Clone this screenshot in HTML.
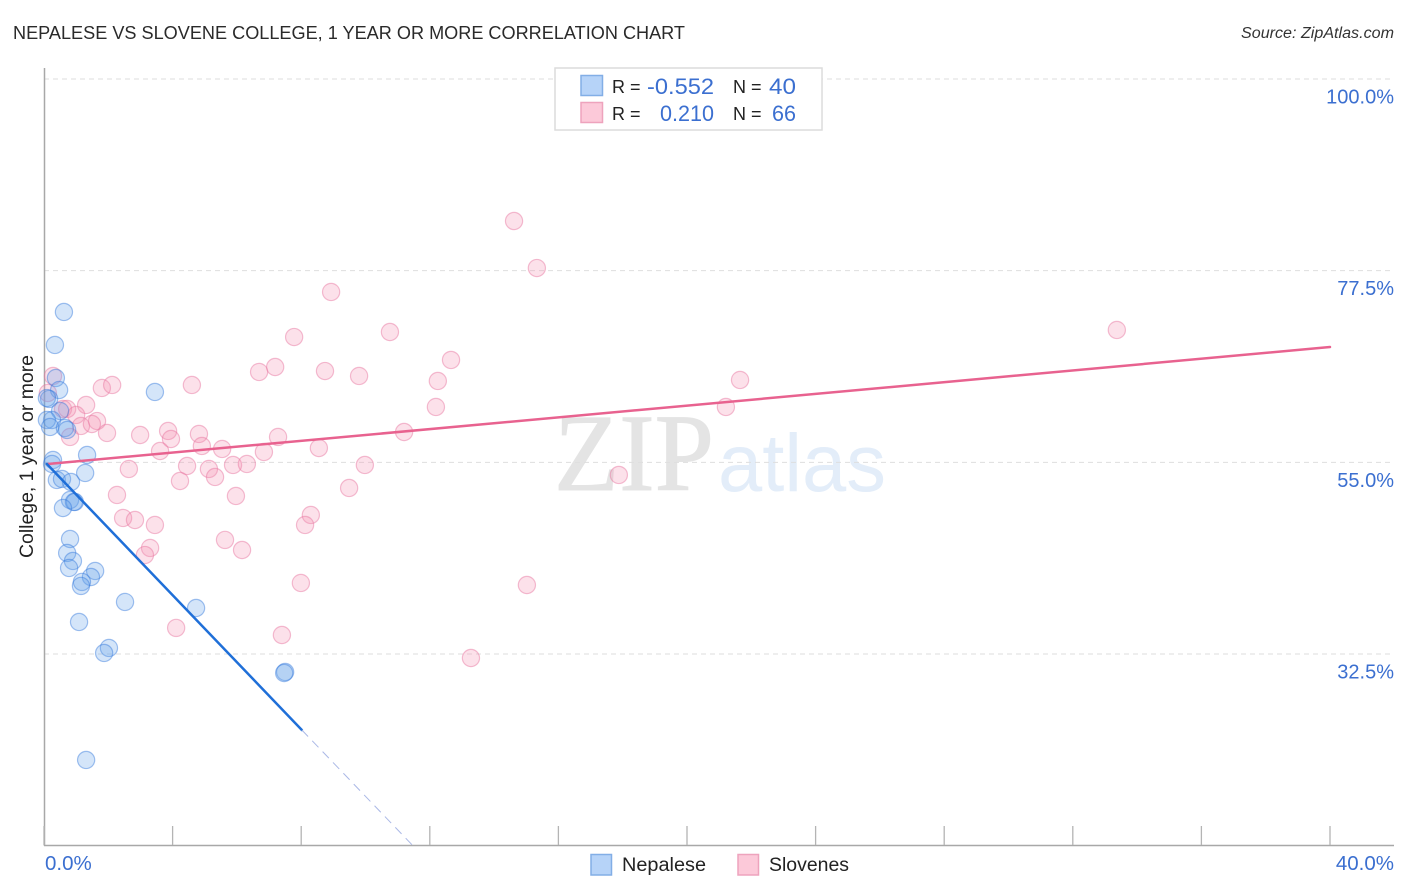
<!DOCTYPE html>
<html lang="en">
<head>
<meta charset="utf-8">
<title>Nepalese vs Slovene College, 1 Year or More Correlation Chart</title>
<style>
html,body{margin:0;padding:0;background:#fff;width:1406px;height:892px;overflow:hidden}
svg{display:block;font-family:"Liberation Sans",sans-serif}
.blue{fill:#3b6fd0}
.dark{fill:#222}
</style>
</head>
<body>
<svg id="chart" width="1406" height="892" viewBox="0 0 1406 892" xmlns="http://www.w3.org/2000/svg">
  <g>
    <text x="554" y="490" font-family="'Liberation Serif',serif" font-size="110" textLength="160" lengthAdjust="spacingAndGlyphs" fill="#e4e4e4" stroke="#e4e4e4" stroke-width="1">ZIP</text>
    <text x="718" y="491" font-size="82" textLength="168" lengthAdjust="spacingAndGlyphs" fill="#e3edf9">atlas</text>
  </g>
  <g id="grid"></g>
  <g id="axes"></g>
  <g id="marks"></g>
  <g id="trends"></g>
  <g id="labels"></g>

  <text x="13" y="39" font-size="18.5" textLength="672" lengthAdjust="spacingAndGlyphs" fill="#2a2a2a">NEPALESE VS SLOVENE COLLEGE, 1 YEAR OR MORE CORRELATION CHART</text>
  <text x="1241" y="38" font-size="15.5" font-style="italic" textLength="153" lengthAdjust="spacingAndGlyphs" fill="#333">Source: ZipAtlas.com</text>
  <text transform="translate(33,456.500) rotate(-90)" font-size="19" text-anchor="middle" textLength="203" lengthAdjust="spacingAndGlyphs" fill="#222">College, 1 year or more</text>

  <g>
    <rect x="555" y="68" width="267" height="62" fill="#fff" stroke="#dcdcdc" stroke-width="1.5"/>
    <rect x="581" y="75.500" width="21.500" height="20" fill="#b6d3f8" stroke="#82aee6" stroke-width="1.500"/>
    <rect x="581" y="102.500" width="21.500" height="20" fill="#fcc9d9" stroke="#eea3bd" stroke-width="1.500"/>
    <text class="dark" x="612" y="93" font-size="18">R =</text>
    <text class="blue" x="647" y="94" font-size="22" textLength="67" lengthAdjust="spacingAndGlyphs">-0.552</text>
    <text class="dark" x="733" y="93" font-size="18">N =</text>
    <text class="blue" x="769" y="94" font-size="22" textLength="27" lengthAdjust="spacingAndGlyphs">40</text>
    <text class="dark" x="612" y="120" font-size="18">R =</text>
    <text class="blue" x="660" y="121" font-size="22" textLength="54" lengthAdjust="spacingAndGlyphs">0.210</text>
    <text class="dark" x="733" y="120" font-size="18">N =</text>
    <text class="blue" x="772" y="121" font-size="22" textLength="24" lengthAdjust="spacingAndGlyphs">66</text>
  </g>

  <g>
    <rect x="591" y="854.500" width="20.500" height="20.500" fill="#b6d3f8" stroke="#82aee6" stroke-width="1.500"/>
    <text class="dark" x="622" y="871" font-size="19" textLength="84" lengthAdjust="spacingAndGlyphs">Nepalese</text>
    <rect x="738" y="854.500" width="20.500" height="20.500" fill="#fcc9d9" stroke="#eea3bd" stroke-width="1.500"/>
    <text class="dark" x="769" y="871" font-size="19" textLength="80" lengthAdjust="spacingAndGlyphs">Slovenes</text>
  </g>
</svg>
<script>
const nepaleseX = [0.62,0.34,0.37,0.47,3.45,0.16,0.09,0.50,0.25,0.09,0.19,0.65,0.72,1.34,0.28,0.25,1.28,0.40,0.56,0.84,0.81,0.96,0.93,0.59,0.81,0.72,0.90,0.78,1.59,1.46,1.18,1.15,2.52,4.73,1.09,2.02,1.87,7.50,7.47,1.31];
const nepaleseY = [72.65,68.78,64.90,63.49,63.26,62.44,62.55,61.03,59.97,59.97,59.15,59.03,58.80,55.86,55.28,54.81,53.75,52.93,53.05,52.69,50.58,50.35,50.35,49.64,46.00,44.36,43.42,42.60,42.25,41.54,40.96,40.49,38.61,37.90,36.26,33.21,32.62,30.39,30.27,20.06];
const sloveneX = [0.28,1.80,2.12,4.60,0.12,0.59,0.72,1.31,1.00,1.15,0.81,1.65,1.49,1.96,2.99,3.86,3.95,3.61,4.82,4.91,5.54,2.64,2.27,4.45,4.23,5.13,5.32,5.88,6.31,6.84,7.28,8.55,9.98,9.49,5.97,2.46,2.83,3.45,3.30,3.14,8.30,8.12,5.63,6.16,7.99,4.11,7.40,13.28,15.02,17.88,11.20,12.19,12.25,12.66,10.76,8.93,7.78,7.19,6.69,8.74,9.80,14.62,15.33,21.65,21.21,33.37];
const sloveneY = [65.14,63.73,64.08,64.08,63.14,61.26,61.26,61.73,60.56,59.27,57.98,59.85,59.50,58.45,58.21,58.68,57.74,56.33,58.33,56.92,56.57,54.22,51.17,54.57,52.81,54.22,53.28,54.69,54.81,56.22,57.98,56.68,54.69,51.99,51.05,48.47,48.23,47.65,44.95,44.12,48.82,47.65,45.89,44.71,40.84,35.56,34.73,32.03,40.60,53.52,58.56,61.50,64.55,67.02,70.30,75.00,69.71,66.19,65.61,65.72,65.14,83.33,77.81,64.67,61.50,70.54];
const nepaleseTrendX = [0.09,8.02];
const nepaleseTrendY = [54.81,23.58];
const nepaleseDashX = [8.02,11.45];
const nepaleseDashY = [23.58,10.09];
const sloveneTrendX = [0.12,40];
const sloveneTrendY = [54.81,68.54];
const yTicks = [100,77.5,55,32.5];
const yTickLabels = ['100.0%','77.5%','55.0%','32.5%'];
const xTicks = [0,4,8,12,16,20,24,28,32,36,40];
const xEndLabels = ['0.0%','40.0%'];

const NS = 'http://www.w3.org/2000/svg';
const X0 = 44, X1 = 1330, XMIN = 0, XMAX = 40;
const Y100 = 79, Y325 = 654;
function sx(v){ return X0 + (v - XMIN) * (X1 - X0) / (XMAX - XMIN); }
function sy(v){ return Y100 + (100 - v) * (Y325 - Y100) / 67.5; }
function make(tag, attrs, parent){
  const el = document.createElementNS(NS, tag);
  for (const k in attrs) el.setAttribute(k, attrs[k]);
  parent.appendChild(el);
  return el;
}
const grid = document.getElementById('grid');
const axes = document.getElementById('axes');
const marks = document.getElementById('marks');
const trends = document.getElementById('trends');
const labels = document.getElementById('labels');

yTicks.forEach(function(t, i){
  const g = make('line', {x1:44, x2:1394, y1:sy(t), y2:sy(t), stroke:'#dedede', 'stroke-width':1, 'stroke-dasharray':'5 4'}, grid);
  
  
  const l = make('text', {x:1394, y:sy(t) + 24.5, 'font-size':20, 'text-anchor':'end', fill:'#3b6fd0'}, labels);
  l.textContent = yTickLabels[i];
  
  
});

const yAxis = make('line', {x1:44.5, x2:44.5, y1:68, y2:846, stroke:'#a8a8a8', 'stroke-width':1.5}, axes);


const xAxis = make('line', {x1:44, x2:1394, y1:845.5, y2:845.5, stroke:'#a8a8a8', 'stroke-width':1.5}, axes);


xTicks.forEach(function(t){
  const k = make('line', {x1:sx(t), x2:sx(t), y1:826, y2:845, stroke:'#b4b4b4', 'stroke-width':1.3}, axes);
  
  
});

const xl0 = make('text', {x:45, y:870, 'font-size':20.5, fill:'#3b6fd0'}, labels);
xl0.textContent = xEndLabels[0];


const xl1 = make('text', {x:1394, y:870, 'font-size':20.5, 'text-anchor':'end', fill:'#3b6fd0'}, labels);
xl1.textContent = xEndLabels[1];



sloveneX.forEach(function(x, i){
  const c = make('circle', {cx:sx(x), cy:sy(sloveneY[i]), r:8.6, fill:'rgba(244,143,177,0.27)', stroke:'rgba(232,120,160,0.48)', 'stroke-width':1.2}, marks);
  
  
});
nepaleseX.forEach(function(x, i){
  const c = make('circle', {cx:sx(x), cy:sy(nepaleseY[i]), r:8.6, fill:'rgba(100,160,235,0.28)', stroke:'rgba(50,120,220,0.45)', 'stroke-width':1.2}, marks);
  
  
});

const tp = make('line', {x1:sx(sloveneTrendX[0]), y1:sy(sloveneTrendY[0]), x2:sx(sloveneTrendX[1]), y2:sy(sloveneTrendY[1]), stroke:'#e8628f', 'stroke-width':2.5, 'stroke-linecap':'round'}, trends);


const tb = make('line', {x1:sx(nepaleseTrendX[0]), y1:sy(nepaleseTrendY[0]), x2:sx(nepaleseTrendX[1]), y2:sy(nepaleseTrendY[1]), stroke:'#1f6fd8', 'stroke-width':2.5, 'stroke-linecap':'round'}, trends);


const td = make('line', {x1:sx(nepaleseDashX[0]), y1:sy(nepaleseDashY[0]), x2:sx(nepaleseDashX[1]), y2:sy(nepaleseDashY[1]), stroke:'#aab8e6', 'stroke-width':1, 'stroke-dasharray':'9 6'}, trends);


</script>
</body>
</html>
